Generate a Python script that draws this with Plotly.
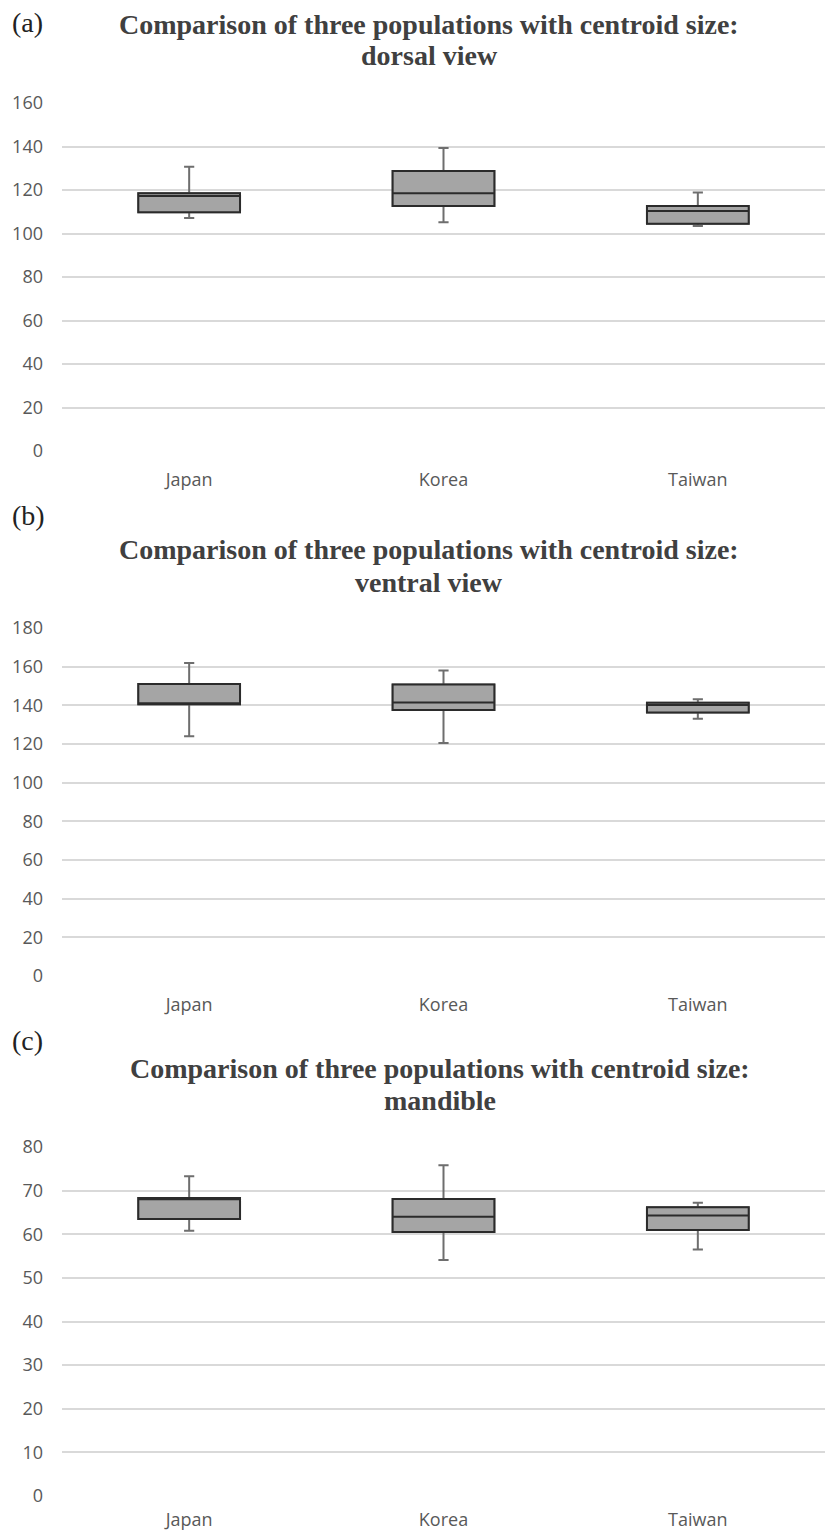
import plotly.graph_objects as go

categories = ["Japan", "Korea", "Taiwan"]

# Panel (a) dorsal view
a_low = [107.1, 105.2, 103.4]
a_q1 = [109.8, 112.7, 104.5]
a_med = [117.2, 118.5, 110.4]
a_q3 = [118.5, 128.7, 112.7]
a_high = [130.7, 139.3, 118.8]

# Panel (b) ventral view
b_low = [124.0, 120.5, 133.0]
b_q1 = [140.5, 137.6, 136.3]
b_med = [140.8, 141.5, 140.2]
b_q3 = [151.0, 150.8, 141.4]
b_high = [161.9, 158.0, 143.1]

# Panel (c) mandible
c_low = [60.8, 54.1, 56.5]
c_q1 = [63.5, 60.5, 61.0]
c_med = [68.0, 64.0, 64.3]
c_q3 = [68.3, 68.1, 66.2]
c_high = [73.3, 75.8, 67.2]

titles = ["Comparison of three populations with centroid size:",
          "Comparison of three populations with centroid size:",
          "Comparison of three populations with centroid size:"]
subtitles = ["dorsal view", "ventral view", "mandible"]
panel_labels = ["(a)", "(b)", "(c)"]
y_max = [160, 180, 80]
y_step = [20, 20, 10]

W, H = 825, 1532
# pixel layout (top, bottom of plot area)
plot_px = [(103, 451), (628, 976), (1147, 1496)]
title_px = [(25, 55), (550, 582), (1068, 1100)]
title_cx = [429, 429, 440]
label_px = [22, 515, 1040]
xlabel_standoff = [16, 16, 11]


def py(v):
    return 1 - v / H


fig = go.Figure()
panels = [
    (a_low, a_q1, a_med, a_q3, a_high),
    (b_low, b_q1, b_med, b_q3, b_high),
    (c_low, c_q1, c_med, c_q3, c_high),
]
for i, (lo, q1, md, q3, hi) in enumerate(panels):
    xa = "x" if i == 0 else f"x{i+1}"
    ya = "y" if i == 0 else f"y{i+1}"
    # whiskers (gray)
    fig.add_trace(go.Box(
        x=categories, lowerfence=lo, q1=q1, median=md, q3=q3, upperfence=hi,
        xaxis=xa, yaxis=ya, fillcolor="#a5a5a5",
        line=dict(color="#6e6e6e", width=2), whiskerwidth=0.1,
        hoverinfo="skip", showlegend=False, boxpoints=False,
    ))
    # box body (dark outline)
    fig.add_trace(go.Box(
        x=categories, lowerfence=q1, q1=q1, median=md, q3=q3, upperfence=q3,
        xaxis=xa, yaxis=ya, fillcolor="#a5a5a5",
        line=dict(color="#2b2b2b", width=2), whiskerwidth=0,
        showlegend=False, boxpoints=False,
    ))

layout = dict(
    width=W, height=H, margin=dict(l=0, r=0, t=0, b=0, autoexpand=False),
    paper_bgcolor="white", plot_bgcolor="white",
    boxmode="overlay", boxgap=0.6, boxgroupgap=0, showlegend=False,
)
annotations = []
for i in range(3):
    sfx = "" if i == 0 else str(i + 1)
    top, bot = plot_px[i]
    layout["xaxis" + sfx] = dict(
        domain=[62 / W, 1.0], anchor="y" + sfx, type="category",
        showgrid=False, showline=False, zeroline=False, ticks="",
        automargin=False, ticklabelstandoff=xlabel_standoff[i],
        tickfont=dict(family="Open Sans", size=18, color="#595959"),
    )
    layout["yaxis" + sfx] = dict(
        domain=[py(bot), py(top)], anchor="x" + sfx,
        range=[0, y_max[i]], dtick=y_step[i], tick0=0,
        showgrid=True, gridcolor="#d9d9d9", gridwidth=1.5,
        zeroline=False, showline=False, ticks="",
        automargin=False, ticklabelstandoff=18,
        tickfont=dict(family="Open Sans", size=18, color="#595959"),
    )
    t1, t2 = title_px[i]
    annotations.append(dict(
        text=titles[i], x=title_cx[i] / W, y=py(t1), xref="paper", yref="paper",
        xanchor="center", yanchor="middle", showarrow=False,
        font=dict(family="Liberation Serif", size=28, color="#404040", weight="bold"),
    ))
    annotations.append(dict(
        text=subtitles[i], x=title_cx[i] / W, y=py(t2), xref="paper", yref="paper",
        xanchor="center", yanchor="middle", showarrow=False,
        font=dict(family="Liberation Serif", size=28, color="#404040", weight="bold"),
    ))
    annotations.append(dict(
        text=panel_labels[i], x=10 / W, y=py(label_px[i]), xref="paper", yref="paper",
        xanchor="left", yanchor="middle", showarrow=False,
        font=dict(family="Liberation Serif", size=28, color="#222222"),
    ))
layout["annotations"] = annotations
fig.update_layout(**layout)
fig.write_html(
    "out.html",
    config={"displayModeBar": False},
    post_script="document.body.style.margin='0';document.body.style.overflow='hidden';",
)
